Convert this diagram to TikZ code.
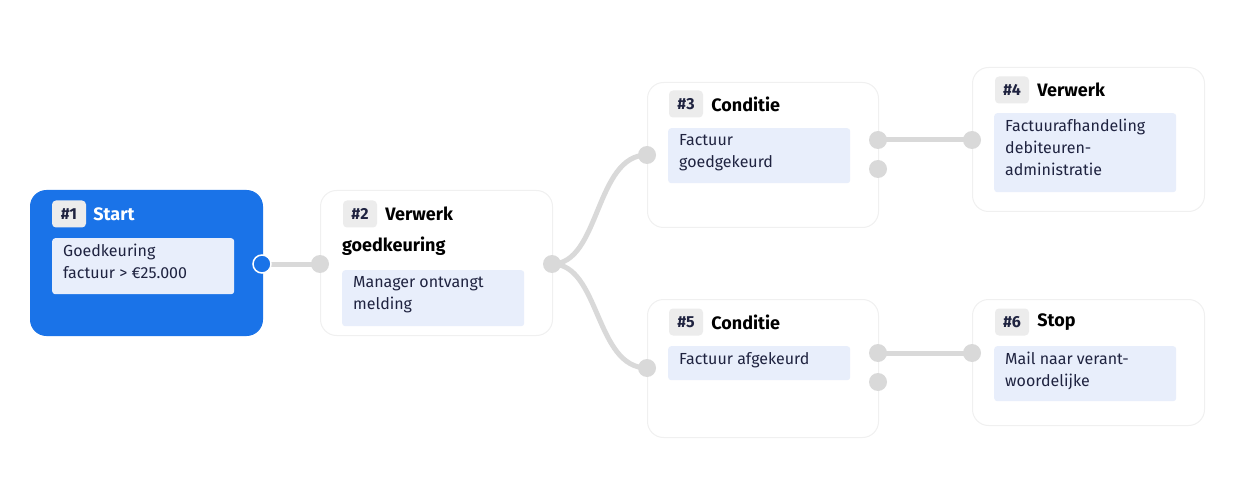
\documentclass[tikz,border=0pt]{standalone}
\usepackage{fontspec}
\setmainfont{Fira Sans}
\usetikzlibrary{positioning}
\definecolor{flowblue}{HTML}{1A73E8}
\definecolor{boxfill}{HTML}{E8EEFB}
\definecolor{tagfill}{HTML}{ECECEC}
\definecolor{portgray}{HTML}{D9D9D9}
\definecolor{inkdark}{HTML}{1F2340}
\tikzset{
    card/.style={draw=black!6, line width=1pt, fill=white, rounded corners=16pt, anchor=north west, inner sep=0pt},
    inner/.style={fill=boxfill, rounded corners=3pt, anchor=north west, inner sep=0pt},
    tag/.style={fill=tagfill, rounded corners=4pt, minimum width=34pt, minimum height=27pt, inner sep=0pt, font=\fontsize{16}{18}\selectfont\bfseries, text=inkdark},
    title/.style={anchor=west, inner sep=0pt, font=\fontsize{18}{20}\selectfont\bfseries},
    body/.style={anchor=north west, inner sep=0pt, align=left, text=inkdark, font=\fontsize{16}{22}\selectfont},
    port/.style={circle, fill=portgray, minimum size=18pt, inner sep=0pt},
    link/.style={draw=portgray, line width=5pt}
}
\begin{document}
\begin{tikzpicture}[x=1pt, y=-1pt]
        \useasboundingbox (0,0) rectangle (1242,497);

        % cards
        \node[card, fill=flowblue, draw=flowblue, minimum width=232pt, minimum height=145pt] (c1) at (30,190) {};
        \node[card, minimum width=232pt, minimum height=145pt] (c2) at (320,190) {};
        \node[card, minimum width=231pt, minimum height=145pt] (c3) at (647,82) {};
        \node[card, minimum width=232pt, minimum height=144pt] (c4) at (972,67) {};
        \node[card, minimum width=231pt, minimum height=138pt] (c5) at (647,299) {};
        \node[card, minimum width=232pt, minimum height=126pt] (c6) at (972,299) {};

        % connectors
        \draw[link] (262,264) -- (320,264);
        \draw[link] (552,264) .. controls (600,264) and (595,155) .. (647,155);
        \draw[link] (552,264) .. controls (600,264) and (595,368) .. (647,368);
        \draw[link] (878,140) -- (972,140);
        \draw[link] (878,353) -- (972,353);

        % ports
        \node[port, fill=flowblue, draw=white, line width=1.5pt] (o1) at (262,264) {};
        \node[port] (i2) at (320,264) {};
        \node[port] (o2) at (552,264) {};
        \node[port] (i3) at (647,155) {};
        \node[port] (o3a) at (878,140) {};
        \node[port] (o3b) at (878,169) {};
        \node[port] (i4) at (972,140) {};
        \node[port] (i5) at (647,368) {};
        \node[port] (o5a) at (878,353) {};
        \node[port] (o5b) at (878,382) {};
        \node[port] (i6) at (972,353) {};

        % headers
        \node[tag] (t1) at (69,214) {\#1};
        \node[title, text=white, right=7pt of t1] (h1) {Start};
        \node[tag] (t2) at (360,214) {\#2};
        \node[title, right=8pt of t2] (h2) {Verwerk};
        \node[title] (h2b) at (342,246) {goedkeuring};
        \node[tag] (t3) at (686,104) {\#3};
        \node[title, right=8pt of t3] (h3) {Conditie};
        \node[tag] (t4) at (1012,90) {\#4};
        \node[title, right=8pt of t4] (h4) {Verwerk};
        \node[tag] (t5) at (686,322) {\#5};
        \node[title, right=8pt of t5] (h5) {Conditie};
        \node[tag] (t6) at (1012,322) {\#6};
        \node[title, right=8pt of t6] (h6) {Stop};

        % body boxes
        \node[inner, minimum width=182pt, minimum height=56pt] (b1) at (52,238) {};
        \node[body] (x1) at (63,244) {Goedkeuring\\factuur > €25.000};
        \node[inner, minimum width=182pt, minimum height=56pt] (b2) at (342,270) {};
        \node[body] (x2) at (353,276) {Manager ontvangt\\melding};
        \node[inner, minimum width=182pt, minimum height=55pt] (b3) at (668,128) {};
        \node[body] (x3) at (679,134) {Factuur\\goedgekeurd};
        \node[inner, minimum width=182pt, minimum height=79pt] (b4) at (994,113) {};
        \node[body] (x4) at (1005,119) {Factuurafhandeling\\debiteuren-\\administratie};
        \node[inner, minimum width=182pt, minimum height=34pt] (b5) at (668,346) {};
        \node[body] (x5) at (679,352) {Factuur afgekeurd};
        \node[inner, minimum width=182pt, minimum height=55pt] (b6) at (994,346) {};
        \node[body] (x6) at (1005,352) {Mail naar verant-\\woordelijke};
\end{tikzpicture}
\end{document}
